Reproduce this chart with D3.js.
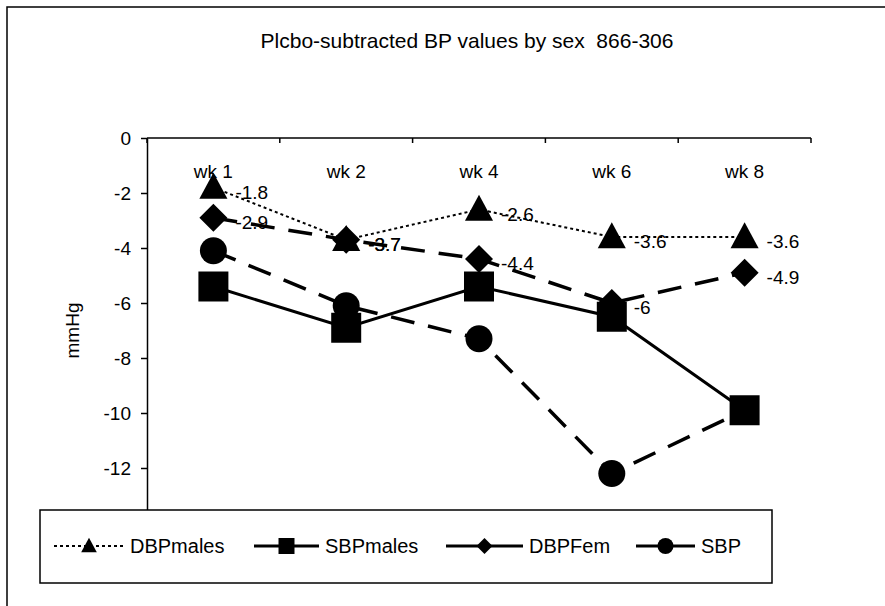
<!DOCTYPE html>
<html>
<head>
<meta charset="utf-8">
<script src="https://cdn.jsdelivr.net/npm/d3@7"></script>
<style>
  html, body { margin: 0; padding: 0; background: #fff; }
  svg { display: block; font-family: "Liberation Sans", Arial, sans-serif; }
  .axis path, .axis line { stroke: #000; stroke-width: 1.5; }
  .axis text { font-size: 19px; fill: #000; }
</style>
</head>
<body>
<div id="chart"></div>
<script>
// weeks along the top axis
var weeks = ["wk 1", "wk 2", "wk 4", "wk 6", "wk 8"];

// placebo-subtracted values, mmHg
var dbpMales = [-1.8, -3.7, -2.6, -3.6, -3.6];
var sbpMales = [-5.4, -6.9, -5.4, -6.5, -9.9];
var dbpFem   = [-2.9, -3.7, -4.4, -6, -4.9];
var sbp      = [-4.1, -6.1, -7.3, -12.2, -9.9];

var yTicks = [0, -2, -4, -6, -8, -10, -12, -14];

(function() {
  var W = 885, H = 606;
  var plot = { left: 147, top: 138, right: 811, bottom: 523 };
  var fmt = function(d) { return String(d); }; // plain hyphen minus like the original

  var svg = d3.select("#chart").append("svg")
      .attr("width", W)
      .attr("height", H);

  // outer chart border (right/bottom run off the page like the scan)
  svg.append("rect")
    .attr("x", 7).attr("y", 7)
    .attr("width", W + 20).attr("height", H + 20)
    .attr("fill", "none")
    .attr("stroke", "#000")
    .attr("stroke-width", 1.5);

  svg.append("text")
    .attr("x", 467).attr("y", 48)
    .attr("text-anchor", "middle")
    .style("font-size", "21px")
    .style("white-space", "pre")
    .text("Plcbo-subtracted BP values by sex  866-306");

  var x = d3.scaleBand().domain(weeks).range([plot.left, plot.right]);
  var y = d3.scaleLinear().domain([-14, 0]).range([plot.bottom, plot.top]);

  // y axis
  svg.append("g")
    .attr("class", "axis")
    .attr("transform", "translate(" + plot.left + ",0)")
    .call(d3.axisLeft(y).tickValues(yTicks).tickSizeInner(6).tickSizeOuter(0).tickPadding(10)
      .tickFormat(fmt));

  // top category axis, ticks between categories pointing into the plot
  var edges = weeks.map(function(w) { return x(w); }).concat([x.range()[1]]);
  var top = svg.append("g").attr("class", "axis");
  top.append("path")
    .attr("d", "M" + plot.left + "," + plot.top + "H" + plot.right)
    .attr("fill", "none");
  top.selectAll("line.tick").data(edges).enter().append("line")
    .attr("x1", function(d) { return d; }).attr("x2", function(d) { return d; })
    .attr("y1", plot.top).attr("y2", plot.top + 5);
  top.selectAll("text").data(weeks).enter().append("text")
    .attr("x", function(d) { return x(d) + x.bandwidth() / 2; })
    .attr("y", plot.top + 40)
    .attr("text-anchor", "middle")
    .text(function(d) { return d; });

  svg.append("text")
    .attr("transform", "translate(79," + ((plot.top + plot.bottom) / 2) + ") rotate(-90)")
    .attr("text-anchor", "middle")
    .style("font-size", "19px")
    .text("mmHg");

  // marker shapes
  var shapes = {
    triangle: function(s) { return "M0," + (-s * 0.55) + "L" + (s * 0.52) + "," + (s * 0.42) + "L" + (-s * 0.52) + "," + (s * 0.42) + "Z"; },
    square: function(s) { var h = s / 2; return "M" + -h + "," + -h + "H" + h + "V" + h + "H" + -h + "Z"; },
    diamond: function(s) { var h = s / 2; return "M0," + -h + "L" + h + ",0L0," + h + "L" + -h + ",0Z"; },
    circle: function(s) { var r = s / 2; return "M" + r + ",0A" + r + "," + r + " 0 1,1 " + -r + ",0A" + r + "," + r + " 0 1,1 " + r + ",0Z"; }
  };

  var series = [
    { name: "SBP",      values: sbp,      shape: "circle",   size: 27, width: 3.5, dash: "24,14", labels: false },
    { name: "DBPFem",   values: dbpFem,   shape: "diamond",  size: 28, width: 3.5, dash: "24,14", labels: true },
    { name: "SBPmales", values: sbpMales, shape: "square",   size: 30, width: 3,   dash: null,    labels: false },
    { name: "DBPmales", values: dbpMales, shape: "triangle", size: 27, width: 2,   dash: "3,3",   labels: true }
  ];

  var line = d3.line()
    .x(function(d, i) { return x(weeks[i]) + x.bandwidth() / 2; })
    .y(function(d) { return y(d); });

  series.forEach(function(s) {
    var g = svg.append("g").attr("class", "series");
    g.append("path")
      .datum(s.values)
      .attr("d", line)
      .attr("fill", "none")
      .attr("stroke", "#000")
      .attr("stroke-width", s.width)
      .attr("stroke-dasharray", s.dash);
    g.selectAll("path.mark").data(s.values).enter().append("path")
      .attr("class", "mark")
      .attr("transform", function(d, i) { return "translate(" + (x(weeks[i]) + x.bandwidth() / 2) + "," + y(d) + ")"; })
      .attr("d", shapes[s.shape](s.size))
      .attr("fill", "#000");
    if (s.labels) {
      g.selectAll("text").data(s.values).enter().append("text")
        .attr("x", function(d, i) { return x(weeks[i]) + x.bandwidth() / 2 + 22; })
        .attr("y", function(d) { return y(d) + 11; })
        .style("font-size", "19px")
        .text(fmt);
    }
  });

  // legend
  var legend = svg.append("g");
  legend.append("rect")
    .attr("x", 40).attr("y", 510)
    .attr("width", 732).attr("height", 73)
    .attr("fill", "#fff")
    .attr("stroke", "#000")
    .attr("stroke-width", 1.5);

  var legendOrder = [
    { s: series[3], x0: 54,  x1: 124 },
    { s: series[2], x0: 254, x1: 319 },
    { s: series[1], x0: 446, x1: 523 },
    { s: series[0], x0: 636, x1: 695 }
  ];
  var ly = 546;
  legendOrder.forEach(function(it) {
    legend.append("line")
      .attr("x1", it.x0).attr("x2", it.x1)
      .attr("y1", ly).attr("y2", ly)
      .attr("stroke", "#000")
      .attr("stroke-width", it.s.name === "DBPmales" ? 2 : 3)
      .attr("stroke-dasharray", it.s.name === "DBPmales" ? "3,3" : null);
    legend.append("path")
      .attr("transform", "translate(" + ((it.x0 + it.x1) / 2) + "," + ly + ")")
      .attr("d", shapes[it.s.shape](it.s.shape === "triangle" ? 15 : 16))
      .attr("fill", "#000");
    legend.append("text")
      .attr("x", it.x1 + 6).attr("y", ly + 7)
      .style("font-size", "20px")
      .text(it.s.name);
  });
})();
</script>
</body>
</html>
